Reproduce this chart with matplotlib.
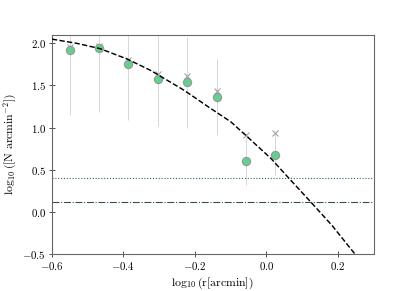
import matplotlib
matplotlib.use("Agg")
import matplotlib.pyplot as plt
from matplotlib.ticker import FuncFormatter, MultipleLocator

plt.rcParams['mathtext.fontset'] = 'cm'
plt.rcParams['font.family'] = 'serif'
plt.rcParams['font.serif'] = ['DejaVu Serif']

# measured profile (log10 r, log10 N)
log_r = [-0.549, -0.468, -0.386, -0.304, -0.222, -0.138, -0.056, 0.025]
log_n = [1.92, 1.94, 1.75, 1.58, 1.54, 1.36, 0.605, 0.68]
log_n_err = [0.77, 0.76, 0.66, 0.56, 0.54, 0.45, 0.28, 0.24]
# raw (uncorrected) values
log_n_raw = [1.96, 1.97, 1.80, 1.64, 1.61, 1.43, 0.91, 0.94]

# fitted model
model_r = [-0.60, -0.530, -0.465, -0.390, -0.324, -0.230, -0.160, -0.099, -0.054,
           0.014, 0.061, 0.125, 0.183, 0.250]
model_n = [2.05, 2.00, 1.937, 1.815, 1.680, 1.443, 1.24, 1.068, 0.895,
           0.63, 0.41, 0.115, -0.156, -0.51]

background = 0.40
background_fit = 0.12

fig, ax = plt.subplots(figsize=(415 / 65, 291 / 65), dpi=65)
fig.subplots_adjust(left=0.125, right=0.9, top=0.88, bottom=0.127)

ax.errorbar(log_r, log_n, yerr=log_n_err, fmt='none', ecolor='#d4d4d4',
            elinewidth=1.0, zorder=1)
ax.plot(log_r, log_n_raw, 'x', color='#a0a0a0', ms=7, mew=1.2, zorder=2)
ax.plot(log_r, log_n, 'o', color='#5fd38d', mec='#9a9a9a', mew=1.4, ms=9, zorder=3)
ax.plot(model_r, model_n, '--', color='black', lw=1.6, zorder=4)
ax.axhline(background, color='#2f5f4f', ls=':', lw=1.2)
ax.axhline(background_fit, color='#2f4f4f', ls='-.', lw=1.2)

ax.set_xlim(-0.6, 0.3)
ax.set_ylim(-0.5, 2.1)
ax.xaxis.set_major_locator(MultipleLocator(0.2))
ax.yaxis.set_major_locator(MultipleLocator(0.5))
fmt = FuncFormatter(lambda v, p: '$%.1f$' % v)
ax.xaxis.set_major_formatter(fmt)
ax.yaxis.set_major_formatter(fmt)
ax.tick_params(direction='inout', length=6, width=1, colors='#444444',
               labelcolor='black', labelsize=12)
for s in ax.spines.values():
    s.set_color('#666666')
    s.set_linewidth(1.2)

ax.set_xlabel(r'$\log_{10}(\mathrm{r[arcmin]})$', fontsize=13)
ax.set_ylabel(r'$\log_{10}(\mathrm{[N\ arcmin^{-2}]})$', fontsize=13)

plt.savefig("out.png", dpi=65)
